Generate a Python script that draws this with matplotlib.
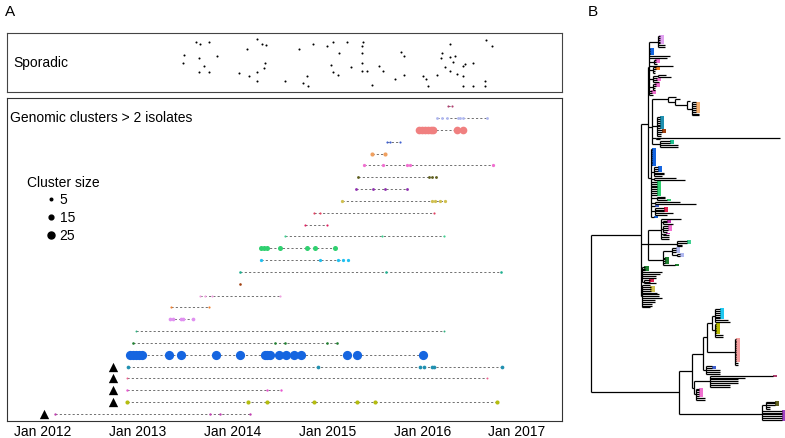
import re
import numpy as np
import matplotlib.pyplot as plt
from matplotlib.lines import Line2D
from matplotlib.collections import LineCollection

plt.rcParams['font.family'] = ['Liberation Sans', 'DejaVu Sans']

year_ticks = [2012, 2013, 2014, 2015, 2016, 2017]
year_labels = ['Jan 2012', 'Jan 2013', 'Jan 2014', 'Jan 2015', 'Jan 2016', 'Jan 2017']

# sporadic isolates: date (decimal year) and vertical jitter (0-1)
sporadic_date = [2013.61, 2013.66, 2013.75, 2013.49, 2013.65, 2013.84, 2013.48, 2013.70, 2013.65, 2013.75,
                 2014.26, 2014.31, 2014.35, 2014.15, 2014.34, 2014.33, 2014.07, 2014.17, 2014.26, 2014.26,
                 2014.55, 2014.70, 2014.85, 2015.00, 2015.06, 2015.21, 2015.38, 2015.36, 2015.12, 2015.36,
                 2015.04, 2015.25, 2015.36, 2015.36, 2015.42, 2015.54, 2015.59, 2015.06, 2015.11, 2014.78,
                 2014.74, 2014.80, 2015.47, 2015.71, 2015.81, 2015.78, 2015.81, 2016.01, 2016.04, 2016.06,
                 2016.16, 2016.29, 2016.21, 2016.20, 2016.29, 2016.35, 2016.32, 2016.29, 2016.24, 2016.45,
                 2016.43, 2016.54, 2016.37, 2016.43, 2016.43, 2016.54, 2016.66, 2016.66, 2016.67, 2016.74]
sporadic_jitter = [0.88, 0.85, 0.88, 0.64, 0.58, 0.63, 0.49, 0.44, 0.32, 0.32,
                   0.93, 0.85, 0.83, 0.76, 0.49, 0.39, 0.31, 0.24, 0.32, 0.15,
                   0.15, 0.75, 0.85, 0.81, 0.88, 0.88, 0.88, 0.80, 0.68, 0.68,
                   0.46, 0.41, 0.49, 0.34, 0.34, 0.44, 0.34, 0.32, 0.27, 0.25,
                   0.12, 0.07, 0.08, 0.19, 0.27, 0.69, 0.63, 0.25, 0.20, 0.07,
                   0.27, 0.85, 0.68, 0.58, 0.61, 0.63, 0.51, 0.34, 0.41, 0.47,
                   0.44, 0.49, 0.29, 0.24, 0.07, 0.07, 0.15, 0.07, 0.92, 0.80]

# genomic clusters, bottom row first: isolate dates, colour, cluster size
cluster_dates = [
    [2012.13, 2013.76, 2013.87, 2014.18],
    [2012.89, 2014.16, 2014.36, 2014.86, 2015.31, 2015.50, 2016.79],
    [2012.89, 2014.36, 2014.51],
    [2012.89, 2016.68],
    [2012.90, 2014.90, 2015.98, 2016.02, 2016.10, 2016.12, 2016.84],
    [2012.92, 2012.95, 2012.98, 2013.01, 2013.04, 2013.33, 2013.46, 2013.82, 2014.08, 2014.34,
     2014.36, 2014.39, 2014.49, 2014.56, 2014.65, 2014.72, 2015.21, 2015.31, 2016.01],
    [2012.95, 2014.45, 2014.55, 2015.00, 2015.10],
    [2012.98, 2016.23],
    [2013.34, 2013.37, 2013.46, 2013.48, 2013.58],
    [2013.35, 2013.75],
    [2013.66, 2013.71, 2013.78, 2014.50],
    [2014.08],
    [2014.08, 2015.62, 2016.83],
    [2014.30, 2014.92, 2015.11, 2015.16, 2015.22],
    [2014.30, 2014.33, 2014.36, 2014.50, 2014.78, 2014.87, 2015.08],
    [2014.55, 2015.58, 2016.23],
    [2014.76, 2015.00],
    [2014.86, 2014.92, 2016.12],
    [2015.15, 2016.10, 2016.14, 2016.19, 2016.24],
    [2015.30, 2015.48, 2015.61, 2015.84],
    [2015.32, 2016.07, 2016.10, 2016.15],
    [2015.39, 2015.59, 2015.84, 2015.87, 2016.75],
    [2015.47, 2015.61],
    [2015.63, 2015.66, 2015.77],
    [2015.97, 2016.00, 2016.03, 2016.06, 2016.09, 2016.11, 2016.37, 2016.43],
    [2016.16, 2016.21, 2016.26, 2016.38, 2016.40, 2016.43, 2016.68],
    [2016.27, 2016.31],
]
cluster_colors = ['#c040b0', '#b5bd10', '#e858d0', '#f06090', '#2090b0', '#1565e0', '#208030',
                  '#30b080', '#e090f0', '#f08030', '#f0a0e0', '#a04010', '#20b090', '#20c0f0',
                  '#30d070', '#40d090', '#e02060', '#e04060', '#d0c050', '#9030b0', '#606020',
                  '#f070d0', '#f0a060', '#4060d0', '#f08080', '#b0b8f0', '#b04070']
cluster_size = [4, 12, 4, 2, 10, 35, 5, 2, 10, 3, 3, 5, 5, 8, 16, 3, 3, 3, 8, 6, 6, 8, 12, 3, 28, 6, 3]

# earliest related isolates marked with triangles
triangle_row = [0, 1, 2, 3, 4]
triangle_date = [2012.01, 2012.74, 2012.74, 2012.74, 2012.74]

legend_sizes = [5, 15, 25]

# phylogeny (panel B), "name*n" = n sibling tips; names are cluster colour codes, k = none
tree_newick = """(
(
 (
  ((lav*5:2,k*2:7):9,blu*4:1,k:21,k:18,(pnk*2:2,k:3):5,k:24,(org*2:3,k*2:2):4,
   ((k:8,k:13):5,pnk*2:4,k:6):4,(pnk*2:3,k*2:2):4,pnk*2:3,k:4):0.5,
  ((k:8,(k:5,(k:3,(pch*6:4,k*2:7):5):12):7):16,(tea*7:3,brn*2:5,k*2:4):5,(k:124,k:4):4,(tgr*2:10,k*2:18):8):4,
  (blu*10:1,(blu*3:4,k*2:10,k:8):3,(k:22,k:31):3,grn*8:6,(k*2:8,grn:10):6,(k:25,k:41):4,nav:4,
   (red*3:9,k:18,k:12):4,blu:3):3
 ):7,
 ((k:20,(mag*2:4,k:10):2,(pnk*3:5,k:4):2,(mag:3,k:6):2,k*2:8):13,(lgr*2:10,k*2:5):29,
  ((lbl*3:4,(lbl*2:3):5):9,dgr*4:2,dgr:12):15):7,
 (dgr*3:3,k:20,k:18,k*2:14,(red*2:6,k:12):2):0.5,
 (k:8,yel*3:9,k:15,k*2:17,k:20,k*2:13,k*2:10,k:8):0.5
):50,
(
 (((((cya*6:5,k:13,k:15):3,(oly*6:1,k*2:8):3):5,(slm*13:1,k*2:3):28):4,(nav*2:6,k*3:14):3):11,
  ((plm:63,k:35,k*3:28,k*2:20):16,(pnk*5:3,k*2:9):2):2):13,
 ((olv*3:9,k*2:4):4,pur*6:20):83
):88
)"""
tip_colors = {'lav': '#e0a0f0', 'blu': '#1565e0', 'pnk': '#f070d0', 'org': '#f08020', 'pch': '#f5b070',
              'tea': '#2090b0', 'brn': '#a04010', 'tgr': '#20c090', 'grn': '#30d070', 'red': '#e02050',
              'mag': '#c030b0', 'lgr': '#40d090', 'lbl': '#b0b8f0', 'dgr': '#208030', 'yel': '#d0c050',
              'cya': '#20c8f0', 'oly': '#b5b800', 'slm': '#f5a0a0', 'nav': '#4060d0', 'plm': '#b04070',
              'olv': '#606020', 'pur': '#a040c0'}


def parse_tree(s):
    s = re.sub(r'\s+', '', s)
    pos = 0

    def node():
        nonlocal pos
        kids = []
        name = ''
        if s[pos] == '(':
            pos += 1
            while True:
                kids.extend(node())
                pos += 1
                if s[pos - 1] == ')':
                    break
        else:
            name = re.match(r'[a-z]+(\*\d+)?', s[pos:]).group(0)
            pos += len(name)
        bl = 0.0
        if pos < len(s) and s[pos] == ':':
            m = re.match(r':([\d.]+)', s[pos:])
            bl = float(m.group(1))
            pos += len(m.group(0))
        if kids:
            return [{'bl': bl, 'kids': kids, 'col': None}]
        col, _, n = name.partition('*')
        return [{'bl': bl, 'kids': [], 'col': col} for _ in range(int(n or 1))]

    return node()[0]


tree = parse_tree(tree_newick)
tips = []


def layout(nd, x0):
    nd['x'] = x0 + nd['bl']
    nd['px'] = x0
    if not nd['kids']:
        nd['y'] = len(tips)
        tips.append(nd)
    else:
        for k in nd['kids']:
            layout(k, nd['x'])
        nd['y'] = np.mean([k['y'] for k in nd['kids']])


layout(tree, 0.0)


def d_px(n):
    return 1.5 + 0.22 * n


fig = plt.figure(figsize=(7.85, 4.38), dpi=100)
xmin = 2012 + (7 - 43) / 94.8
xmax = 2012 + (562 - 43) / 94.8

# Sporadic panel
ax_s = fig.add_axes([7 / 785, 1 - 92 / 438, 555 / 785, 59 / 438])
ax_s.scatter(sporadic_date, sporadic_jitter, s=2.2, color='black', linewidths=0)
ax_s.set_xlim(xmin, xmax)
ax_s.set_ylim(-0.05, 1.05)
ax_s.set_xticks([])
ax_s.set_yticks([])
ax_s.text(0.011, 0.5, 'Sporadic', transform=ax_s.transAxes, va='center', fontsize=10)
for sp in ax_s.spines.values():
    sp.set_color('#444444')

# Clusters panel
ax = fig.add_axes([7 / 785, 1 - 421 / 438, 555 / 785, 323 / 438])
for i, dates in enumerate(cluster_dates):
    if len(dates) > 1:
        ax.plot([min(dates), max(dates)], [i, i], color='#707070', lw=0.7,
                linestyle=(0, (2.2, 2.2)), zorder=1)
    s = (d_px(cluster_size[i]) * 0.72) ** 2
    ax.scatter(dates, [i] * len(dates), s=s, color=cluster_colors[i], linewidths=0, zorder=2)
ax.scatter(triangle_date, triangle_row, marker='^', s=45, color='black', linewidths=0, zorder=3)
ax.set_xlim(xmin, xmax)
ax.set_ylim(-0.6, 26.7)
ax.set_yticks([])
ax.set_xticks(year_ticks)
ax.set_xticklabels(year_labels)
ax.tick_params(axis='x', length=0, pad=3, labelsize=10)
for sp in ax.spines.values():
    sp.set_color('#333333')
ax.text(0.006, 0.938, 'Genomic clusters > 2 isolates', transform=ax.transAxes, va='center', fontsize=10)

ax.text((27 - 7) / 555, (421 - 183) / 323, 'Cluster size', transform=ax.transAxes,
        va='center', fontsize=10)
handles = [Line2D([], [], marker='o', linestyle='', color='black',
                  markersize=d_px(n) * 0.72) for n in legend_sizes]
ax.legend(handles, [str(n) for n in legend_sizes], loc='upper left',
          bbox_to_anchor=((45 - 7) / 555, (421 - 193) / 323), frameon=False, fontsize=10,
          handlelength=0.8, handletextpad=0.25, labelspacing=0.3, borderaxespad=0,
          borderpad=0)

# Tree panel
ax_t = fig.add_axes([580 / 785, 1 - 425 / 438, 205 / 785, 395 / 438])
ntip = len(tips)
pitch = (420 - 36) / (ntip - 1)
ax_t.set_xlim(580 - 591, 785 - 591)
ax_t.set_ylim(ntip - 1 + 5 / pitch, -6 / pitch)
ax_t.axis('off')

segs = []


def collect(nd):
    segs.append([(nd['px'], nd['y']), (nd['x'], nd['y'])])
    if nd['kids']:
        ys = [k['y'] for k in nd['kids']]
        segs.append([(nd['x'], min(ys)), (nd['x'], max(ys))])
        for k in nd['kids']:
            collect(k)


collect(tree)
for t in tips:
    if t['col'] != 'k':
        ax_t.barh(t['y'], 4.5, left=t['x'] - 0.5, height=1.0, color=tip_colors[t['col']],
                  linewidth=0, zorder=1)
ax_t.add_collection(LineCollection(segs, colors='black', linewidths=0.9, zorder=2))

fig.text(10 / 785, 1 - 12 / 438, 'A', fontsize=11, ha='center', va='center')
fig.text(593 / 785, 1 - 12 / 438, 'B', fontsize=11, ha='center', va='center')

fig.savefig('out.png', dpi=100)
